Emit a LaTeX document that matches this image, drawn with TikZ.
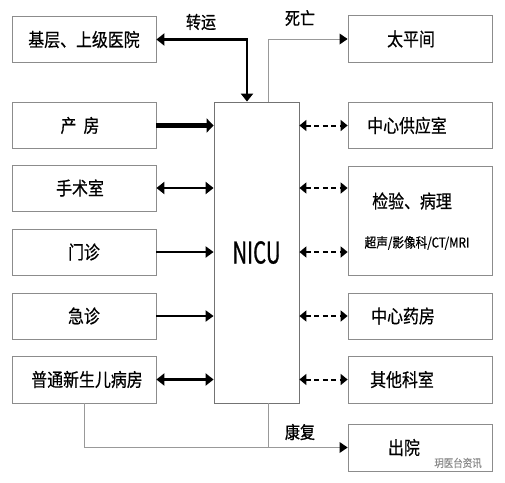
\documentclass[tikz,border=0pt]{standalone}
\usepackage{fontspec}
\newfontfamily\cjk{Noto Sans CJK SC}[FakeStretch=0.86,FakeBold=0.6]
\newfontfamily\cjkn{Noto Sans CJK SC}[FakeStretch=0.68,FakeBold=0.8]
\usetikzlibrary{arrows.meta,calc}
\begin{document}
\begin{tikzpicture}[x=1pt,y=-1pt,
  box/.style={draw=black!45, line width=0.8pt, minimum width=144pt, minimum height=46pt, inner sep=0pt, font=\cjk\fontsize{18.5}{20}\selectfont},
  lbl/.style={font=\cjk\fontsize{17.5}{19}\selectfont, inner sep=0pt},
  solid1/.style={line width=2pt, -{Triangle[length=8pt,width=11pt]}},
  both1/.style={line width=2.4pt, {Triangle[length=8pt,width=12pt]}-{Triangle[length=8pt,width=12pt]}},
  dboth/.style={line width=2pt, dash pattern=on 5pt off 3.5pt, {Triangle[length=7pt,width=11pt]}-{Triangle[length=7pt,width=11pt]}},
  thin/.style={draw=black!40, line width=0.8pt}]
\useasboundingbox (0,0) rectangle (505,482);

% left column
\node[box] (jc) at (84,39.5) {基层、上级医院};
\node[box] (cf) at (84,125.5) {产\kern7pt 房\kern8pt};
\node[box] (ss) at (84,188) {手术室\kern8pt};
\node[box] (mz) at (84,252) {门诊};
\node[box] (jz) at (84,316) {急诊};
\node[box, minimum height=47pt] (pt) at (84,379.5) {\kern6pt 普通新生儿病房};

% NICU
\node[draw=black!55, line width=0.8pt, minimum width=85pt, minimum height=301pt, inner sep=0pt,
      font=\cjkn\fontsize{30}{30}\selectfont] (nicu) at (256.5,252.5) {NICU};

% right column
\node[box, minimum height=47pt] (tpj) at (420,39) {太平间\kern18pt};
\node[box] (gy) at (420,125.5) {中心供应室\kern26pt};
\node[box, minimum height=109pt] (jy) at (420,220.5) {};
\node[lbl, font=\cjk\fontsize{18.5}{20}\selectfont] (jyt) at (412,201) {检验、病理};
\node[lbl, font=\cjk\fontsize{13.5}{14}\selectfont] (jyb) at (417,243) {超声/影像科/CT/MRI};
\node[box] (yf) at (420,316) {中心药房\kern34pt};
\node[box, minimum height=47pt] (qt) at (420,379.5) {其他科室\kern36pt};
\node[box, minimum height=47pt] (cy) at (420,447.5) {出院\kern32pt};

% labels
\node[lbl] (lzy) at (201,22) {转运};
\node[lbl] (lsw) at (300,18) {死亡};
\node[lbl] (lkf) at (300,432) {康复};
\node[font=\cjk\fontsize{11}{11}\selectfont, text=black!45, inner sep=0pt] (wm) at (458,463) {玥医台资讯};

% transfer (thick, both ends)
\draw[line width=2.6pt, {Triangle[length=8pt,width=12pt]}-{Triangle[length=8pt,width=12pt]}]
  (jc.east) -| ([xshift=-9.5pt]nicu.north);

% death
\draw[thin] ([xshift=11.5pt]nicu.north) |- ($(tpj.west)+(-8,0)$);
\path (tpj.west) ++(-8,-5.5) coordinate (da1) ++(0,11) coordinate (da2);
\fill[black] (da1) -- (tpj.west) -- (da2) -- cycle;

% left arrows
\draw[line width=5pt, -{Triangle[length=7pt,width=14pt]}] (cf.east) -- (cf.east -| nicu.west);
\draw[both1] (ss.east) -- (ss.east -| nicu.west);
\draw[solid1] (mz.east) -- (mz.east -| nicu.west);
\draw[solid1] (jz.east) -- (jz.east -| nicu.west);
\draw[both1] (pt.east) -- (pt.east -| nicu.west);

% right dashed arrows
\draw[dboth] (nicu.east |- gy.west) -- (gy.west);
\draw[dboth] (nicu.east |- {$(jy.west)+(0,-32.5)$}) -- ($(jy.west)+(0,-32.5)$);
\draw[dboth] (nicu.east |- {$(jy.west)+(0,31.5)$}) -- ($(jy.west)+(0,31.5)$);
\draw[dboth] (nicu.east |- yf.west) -- (yf.west);
\draw[dboth] (nicu.east |- qt.west) -- (qt.west);

% recovery
\draw[thin] (pt.south) |- ($(cy.west)+(-8,0)$);
\draw[thin] ([xshift=11.5pt]nicu.south) -- ([xshift=11.5pt]nicu.south |- cy.west);
\path (cy.west) ++(-8,-5.5) coordinate (ra1) ++(0,11) coordinate (ra2);
\fill[black] (ra1) -- (cy.west) -- (ra2) -- cycle;
\end{tikzpicture}
\end{document}
